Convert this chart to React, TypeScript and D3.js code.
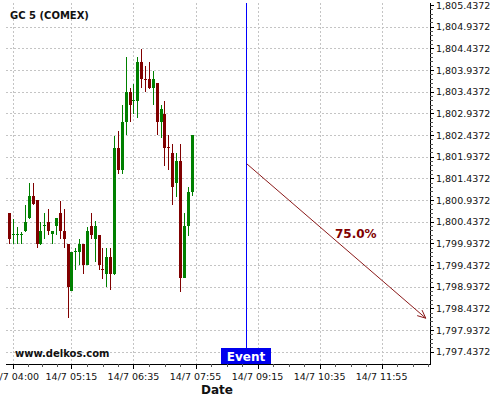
import React from "react";
import * as d3 from "d3";

const title = "GC 5 (COMEX)";
const candleTimes = [
  "03:55", "04:00", "04:05", "04:10", "04:15", "04:20", "04:25", "04:30", "04:35", "04:40",
  "04:45", "04:50", "04:55", "05:00", "05:05", "05:10", "05:15", "05:20", "05:25", "05:30",
  "05:35", "05:40", "05:45", "05:50", "05:55", "06:00", "06:05", "06:10", "06:15", "06:20",
  "06:25", "06:30", "06:35", "06:40", "06:45", "06:50", "06:55", "07:00", "07:05", "07:10",
  "07:15", "07:20", "07:25", "07:30", "07:35", "07:40", "07:45", "07:50",
];
const opens = [
  1800.64, 1800.15, 1800.15, 1800.15, 1800.22, 1800.52, 1801.03, 1800.94, 1799.92, 1800.35,
  1800.43, 1800.15, 1800.34, 1800.64, 1800.22, 1799.92, 1798.84, 1799.75, 1799.74, 1799.92,
  1799.44, 1800.34, 1800.04, 1800.14, 1799.34, 1799.23, 1799.62, 1799.23, 1802.14, 1801.63,
  1802.74, 1803.43, 1803.23, 1803.23, 1804.12, 1803.74, 1803.72, 1803.53, 1803.63, 1802.74,
  1802.92, 1802.16, 1802.02, 1801.34, 1801.84, 1799.14, 1800.34, 1801.13,
];
const highs = [
  1800.64, 1800.51, 1800.32, 1800.21, 1800.82, 1801.32, 1801.32, 1800.94, 1800.42, 1800.63,
  1800.72, 1800.22, 1800.52, 1800.92, 1800.72, 1799.92, 1799.74, 1799.82, 1800.03, 1799.92,
  1800.32, 1800.63, 1800.45, 1800.14, 1799.82, 1799.82, 1799.82, 1802.41, 1802.54, 1803.12,
  1804.23, 1803.52, 1803.62, 1804.23, 1804.43, 1804.02, 1804.12, 1803.92, 1803.63, 1803.12,
  1803.22, 1802.44, 1802.23, 1802.02, 1802.23, 1800.63, 1801.24, 1802.44,
];
const lows = [
  1799.92, 1799.92, 1799.92, 1799.92, 1800.2, 1800.5, 1800.82, 1799.82, 1799.9, 1800.03,
  1800.12, 1799.92, 1800.12, 1800.03, 1799.82, 1798.21, 1798.84, 1799.32, 1799.44, 1799.23,
  1799.44, 1800.04, 1799.51, 1799.32, 1799.12, 1798.92, 1798.86, 1799.21, 1801.53, 1801.53,
  1802.43, 1802.74, 1802.92, 1802.82, 1803.52, 1803.43, 1803.51, 1803.14, 1802.44, 1802.37,
  1801.72, 1801.63, 1800.82, 1801.01, 1798.82, 1799.14, 1800.11, 1801.03,
];
const closes = [
  1800.04, 1800.16, 1800.16, 1800.16, 1800.43, 1801.03, 1800.84, 1799.92, 1800.22, 1800.36,
  1800.22, 1800.22, 1800.52, 1800.22, 1800.04, 1798.94, 1799.74, 1799.76, 1799.92, 1799.44,
  1800.22, 1800.14, 1800.34, 1799.44, 1799.33, 1799.62, 1799.23, 1802.14, 1801.63, 1802.74,
  1803.43, 1803.13, 1803.24, 1804.12, 1803.74, 1803.73, 1803.53, 1803.72, 1802.74, 1803.03,
  1802.14, 1802.15, 1801.24, 1801.84, 1799.14, 1800.34, 1801.13, 1802.44,
];

const yTicks = [
  1797.4372, 1797.9372, 1798.4372, 1798.9372, 1799.4372, 1799.9372, 1800.4372, 1800.9372,
  1801.4372, 1801.9372, 1802.4372, 1802.9372, 1803.4372, 1803.9372, 1804.4372, 1804.9372,
  1805.4372,
];
const xTickTimes = ["04:00", "05:15", "06:35", "07:55", "09:15", "10:35", "11:55"];
const xTickLabels = ["14/7 04:00", "14/7 05:15", "14/7 06:35", "14/7 07:55", "14/7 09:15", "14/7 10:35", "14/7 11:55"];

const eventTime = "09:00";
const eventLabel = "Event";
const arrowStart = { time: "09:00", value: 1801.77 };
const arrowEnd = { time: "12:52", value: 1798.21 };
const arrowLabel = "75.0%";
const watermark = "www.delkos.com";
const xAxisTitle = "Date";

const toMin = (s: string) => {
  const [h, m] = s.split(":").map(Number);
  return h * 60 + m;
};

const W = 500;
const H = 400;
const plotLeft = 6;
const plotRight = 430;
const plotTop = 3;
const plotBottom = 364;

const FONT = "DejaVu Sans, sans-serif";
const UP = "#008000";
const DOWN = "#800000";
const GRID = "#c4c4c4";

export default function App() {
  const x = d3.scaleLinear().domain([toMin("04:00"), toMin("11:55")]).range([13.3, 381.6]);
  const y = d3.scaleLinear().domain([1797.4372, 1805.4372]).range([351.7, 5]);
  const fmt = d3.format(",.4f");

  const majorX = xTickTimes.map(toMin);
  const minorX: number[] = [];
  for (let i = 0; i < majorX.length; i++) {
    const step = i < majorX.length - 1 ? (majorX[i + 1] - majorX[i]) / 4 : (majorX[i] - majorX[i - 1]) / 4;
    for (let k = -3; k < 4; k++) {
      const t = majorX[i] + k * step;
      if ((i === 0 || k >= 0) && (i === majorX.length - 1 || k >= 0) && k !== 0) minorX.push(t);
    }
  }
  const minorXpx = Array.from(new Set(minorX.map((t) => Math.round(x(t) * 10) / 10))).filter(
    (px) => px > plotLeft && px < plotRight
  );

  const minorY: number[] = [];
  for (let i = 0; i < yTicks.length - 1; i++) {
    for (let k = 1; k < 5; k++) minorY.push(yTicks[i] + (k * (yTicks[i + 1] - yTicks[i])) / 5);
  }

  const ex = Math.round(x(toMin(eventTime))) + 0.5;
  const ax1 = x(toMin(arrowStart.time)) + 1;
  const ay1 = y(arrowStart.value);
  const ax2 = x(toMin(arrowEnd.time));
  const ay2 = y(arrowEnd.value);
  const ang = Math.atan2(ay2 - ay1, ax2 - ax1);
  const headLen = 9;
  const headAng = 0.42;
  const h1 = [ax2 - headLen * Math.cos(ang - headAng), ay2 - headLen * Math.sin(ang - headAng)];
  const h2 = [ax2 - headLen * Math.cos(ang + headAng), ay2 - headLen * Math.sin(ang + headAng)];

  const bw = 3;

  return (
    <svg
      width={W}
      height={H}
      style={{ position: "absolute", left: 0, top: 0, background: "#fff" }}
      fontFamily={FONT}
    >
      <rect x={0} y={0} width={W} height={H} fill="#fff" />
      {/* grid */}
      <g stroke={GRID} strokeWidth={1} strokeDasharray="2,2" shapeRendering="crispEdges">
        {yTicks
          .filter((v) => y(v) > plotTop + 3)
          .map((v) => (
            <line key={"gy" + v} x1={plotLeft} x2={plotRight} y1={Math.round(y(v)) + 0.5} y2={Math.round(y(v)) + 0.5} />
          ))}
        {majorX.map((t) => (
          <line key={"gx" + t} x1={Math.round(x(t)) + 0.5} x2={Math.round(x(t)) + 0.5} y1={plotTop} y2={plotBottom} />
        ))}
      </g>

      {/* candles */}
      <g shapeRendering="crispEdges">
        {candleTimes.map((t, i) => {
          const cx = Math.round(x(toMin(t)));
          const o = opens[i];
          const c = closes[i];
          const up = c >= o;
          const col = up ? UP : DOWN;
          const top = y(Math.max(o, c));
          const bot = y(Math.min(o, c));
          const hgt = Math.max(1, bot - top);
          return (
            <g key={t}>
              <line x1={cx + 0.5} x2={cx + 0.5} y1={y(highs[i])} y2={y(lows[i])} stroke={col} strokeWidth={1} />
              <rect x={cx - 1} y={top} width={bw} height={hgt} fill={col} />
            </g>
          );
        })}
      </g>

      {/* event line */}
      <line x1={ex} x2={ex} y1={plotTop} y2={348} stroke="#0000ff" strokeWidth={1} shapeRendering="crispEdges" />

      {/* arrow */}
      <g stroke="#8b1a1a" strokeWidth={1} fill="none">
        <line x1={ax1} y1={ay1} x2={ax2} y2={ay2} />
        <line x1={ax2} y1={ay2} x2={h1[0]} y2={h1[1]} />
        <line x1={ax2} y1={ay2} x2={h2[0]} y2={h2[1]} />
      </g>
      <text x={335} y={238} fontSize={12} fontWeight="bold" fill="#800000">
        {arrowLabel}
      </text>

      {/* axes */}
      <g stroke="#000" strokeWidth={1} shapeRendering="crispEdges">
        <line x1={plotLeft} x2={plotRight + 0.5} y1={plotBottom + 0.5} y2={plotBottom + 0.5} />
        <line x1={plotRight + 0.5} x2={plotRight + 0.5} y1={plotTop} y2={plotBottom + 0.5} />
        {yTicks.map((v) => (
          <line key={"ty" + v} x1={plotRight} x2={plotRight + 4} y1={Math.round(y(v)) + 0.5} y2={Math.round(y(v)) + 0.5} />
        ))}
        {minorY.map((v, i) => (
          <line key={"my" + i} x1={plotRight} x2={plotRight + 2.5} y1={Math.round(y(v)) + 0.5} y2={Math.round(y(v)) + 0.5} stroke="#555" />
        ))}
        {majorX.map((t) => (
          <line key={"tx" + t} x1={Math.round(x(t)) + 0.5} x2={Math.round(x(t)) + 0.5} y1={plotBottom} y2={plotBottom + 5} />
        ))}
        {minorXpx.map((px, i) => (
          <line key={"mx" + i} x1={Math.round(px) + 0.5} x2={Math.round(px) + 0.5} y1={plotBottom} y2={plotBottom + 3} stroke="#555" />
        ))}
      </g>
      <g fontSize={9.5} fill="#111">
        {yTicks.map((v) => (
          <text key={"ly" + v} x={436} y={y(v) + 3.5}>
            {fmt(v)}
          </text>
        ))}
        {majorX.map((t, i) => (
          <text key={"lx" + t} x={x(t)} y={380} textAnchor="middle">
            {xTickLabels[i]}
          </text>
        ))}
      </g>

      {/* event box */}
      <rect x={ex - 25.5} y={348} width={50} height={16} fill="#0000ee" />
      <text x={ex - 0.5} y={361} fontSize={12} fontWeight="bold" fill="#fff" textAnchor="middle">
        {eventLabel}
      </text>

      {/* texts */}
      <text x={10} y={19} fontSize={10} fontWeight="bold" fill="#111">
        {title}
      </text>
      <text x={15} y={357} fontSize={10} fontWeight="bold" fill="#111">
        {watermark}
      </text>
      <text x={217} y={394} fontSize={12} fontWeight="bold" fill="#111" textAnchor="middle">
        {xAxisTitle}
      </text>
    </svg>
  );
}
